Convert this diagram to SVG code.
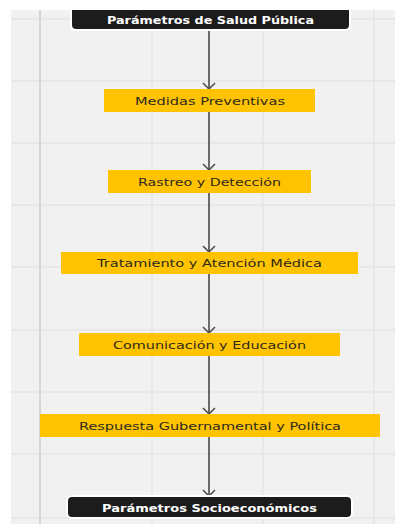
<svg xmlns="http://www.w3.org/2000/svg" width="395" height="524" viewBox="0 0 395 524">
<defs>
<style>
.grid{stroke:#e4e4e4;stroke-width:1.5}
.box{fill:#ffc300}
.dark{fill:#1c1c1c;stroke:#ffffff;stroke-width:2}
.lbl{font-family:"DejaVu Sans","Noto Sans",sans-serif;font-size:10.5px;fill:#2e2a1e;text-anchor:middle;dominant-baseline:central}
.wlbl{font-family:"DejaVu Sans","Noto Sans",sans-serif;font-size:10.5px;font-weight:bold;fill:#ffffff;text-anchor:middle;dominant-baseline:central}
.edge{stroke:#4a4a4a;stroke-width:1.6;fill:none}
</style>
<marker id="arr" viewBox="0 0 8 14" refX="7" refY="7" markerWidth="8" markerHeight="14" markerUnits="userSpaceOnUse" orient="auto">
<path d="M1,1 L7,7 L1,13" fill="none" stroke="#4a4a4a" stroke-width="1.5"/>
</marker>
</defs>
<rect x="0" y="0" width="395" height="524" fill="#ffffff"/>
<rect x="11" y="10" width="384" height="514" fill="#f1f1f1"/>
<g id="grid">
<line class="grid" x1="11" y1="19" x2="395" y2="19"/>
<line class="grid" x1="11" y1="81" x2="395" y2="81"/>
<line class="grid" x1="11" y1="143" x2="395" y2="143"/>
<line class="grid" x1="11" y1="205" x2="395" y2="205"/>
<line class="grid" x1="11" y1="267" x2="395" y2="267"/>
<line class="grid" x1="11" y1="330" x2="395" y2="330"/>
<line class="grid" x1="11" y1="392" x2="395" y2="392"/>
<line class="grid" x1="11" y1="454" x2="395" y2="454"/>
<line class="grid" x1="11" y1="518" x2="395" y2="518"/>
<line x1="40" y1="10" x2="40" y2="524" stroke="#d6d6d6" stroke-width="2"/>
<line class="grid" x1="152" y1="10" x2="152" y2="524"/>
<line class="grid" x1="263" y1="10" x2="263" y2="524"/>
<line class="grid" x1="374" y1="10" x2="374" y2="524"/>
</g>
<g id="connectors">
<line class="edge" x1="209" y1="31" x2="209" y2="89" marker-end="url(#arr)"/>
<line class="edge" x1="209" y1="112" x2="209" y2="170" marker-end="url(#arr)"/>
<line class="edge" x1="209" y1="193" x2="209" y2="252" marker-end="url(#arr)"/>
<line class="edge" x1="209" y1="274" x2="209" y2="333" marker-end="url(#arr)"/>
<line class="edge" x1="209" y1="356" x2="209" y2="414" marker-end="url(#arr)"/>
<line class="edge" x1="209" y1="437" x2="209" y2="496" marker-end="url(#arr)"/>
</g>
<g id="n-salud">
<path class="dark" d="M71,9 L350,9 L350,25 Q350,30 345,30 L76,30 Q71,30 71,25 Z"/>
<text class="wlbl" x="210.5" y="19.5" textLength="207" lengthAdjust="spacingAndGlyphs">Parámetros de Salud Pública</text>
</g>
<g id="n-medidas">
<rect class="box" x="104" y="89" width="211" height="23"/>
<text class="lbl" x="210" y="100.5" textLength="150" lengthAdjust="spacingAndGlyphs">Medidas Preventivas</text>
</g>
<g id="n-rastreo">
<rect class="box" x="108" y="170" width="203" height="23"/>
<text class="lbl" x="209.5" y="181.5" textLength="143" lengthAdjust="spacingAndGlyphs">Rastreo y Detección</text>
</g>
<g id="n-tratamiento">
<rect class="box" x="61" y="252" width="297" height="22"/>
<text class="lbl" x="209.5" y="263" textLength="225" lengthAdjust="spacingAndGlyphs">Tratamiento y Atención Médica</text>
</g>
<g id="n-comunicacion">
<rect class="box" x="79" y="333" width="261" height="23"/>
<text class="lbl" x="209.5" y="344.5" textLength="193" lengthAdjust="spacingAndGlyphs">Comunicación y Educación</text>
</g>
<g id="n-respuesta">
<rect class="box" x="40" y="414" width="340" height="23"/>
<text class="lbl" x="210" y="425.5" textLength="262" lengthAdjust="spacingAndGlyphs">Respuesta Gubernamental y Política</text>
</g>
<g id="n-socio">
<rect class="dark" x="67" y="496" width="285" height="22" rx="5"/>
<text class="wlbl" x="209.5" y="507.5" textLength="215" lengthAdjust="spacingAndGlyphs">Parámetros Socioeconómicos</text>
</g>
</svg>
